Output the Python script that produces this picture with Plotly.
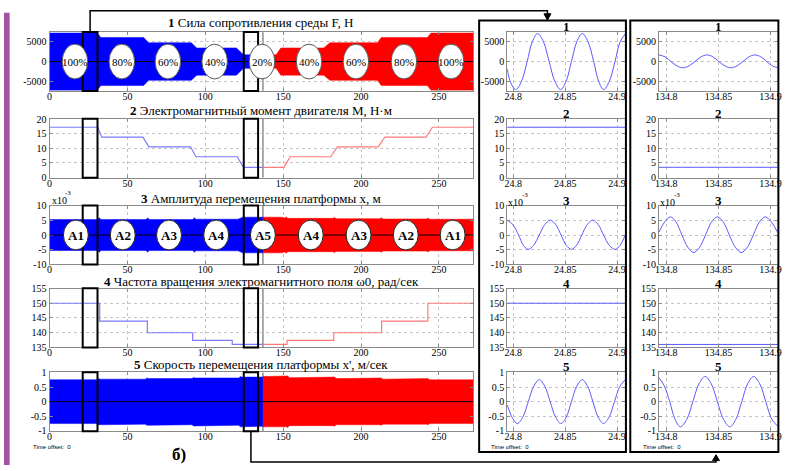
import plotly.graph_objects as go

W, H = 789, 471
SERIF = "Liberation Serif"
SANS = "Liberation Sans"

# ======================= DATA =======================
# ---- left column, time axis (s) ----
t_ticks = [0, 50, 100, 150, 200, 250]
switch_t = 137                       # blue -> red boundary
zoom_windows = [(21.3, 30.8), (124.7, 133.9)]

# 1: force envelope (N)
f_blue_x = [0, 30.5, 33, 60.5, 63.5, 91, 94.5, 120, 124.5, 137]
f_blue_amp = [7150, 7150, 6000, 6000, 4700, 4700, 3400, 3400, 1700, 1700]
f_red_x = [137, 145.5, 148.5, 176, 180, 210.5, 213, 242.5, 245, 272]
f_red_amp = [1700, 1700, 3400, 3400, 4700, 4700, 6000, 6000, 7150, 7150]
f_label_x = [16.3, 46.4, 76, 106, 136.4, 166.6, 196.7, 227.5, 257.8]
f_labels = ["100%", "80%", "60%", "40%", "20%", "40%", "60%", "80%", "100%"]

# 2: electromagnetic torque (N*m)
m_blue_x = [0, 31, 33.5, 60, 63.8, 90.5, 94, 120.5, 124.5, 137]
m_blue_y = [17.2, 17.2, 13.8, 13.8, 10.5, 10.5, 7.1, 7.1, 3.5, 3.5]
m_red_x = [137, 150.5, 154.5, 180.5, 184.8, 211, 215.3, 241.8, 245.8, 272]
m_red_y = [3.5, 3.5, 7.1, 7.1, 10.5, 10.5, 13.8, 13.8, 17.2, 17.2]

# 3: displacement envelope (x1e-3 m)
x_blue_x = [0, 31, 32, 33, 62, 63, 64, 92, 93, 94, 121, 124, 137]
x_blue_amp = [5.3, 5.3, 5.9, 5.3, 5.3, 5.9, 5.3, 5.3, 5.9, 5.4, 5.4, 6.1, 6.1]
x_red_x = [137, 149, 151, 152, 153, 182, 183, 184, 212, 213, 214, 242, 243, 244, 272]
x_red_amp = [6.1, 6.1, 5.8, 6.2, 5.7, 5.7, 6.0, 5.6, 5.6, 5.9, 5.5, 5.5, 5.8, 5.4, 5.4]
a_label_x = [16.9, 47, 76.7, 107, 137, 167.7, 198.4, 228.7, 258.8]
a_labels = ["A1", "A2", "A3", "A4", "A5", "A4", "A3", "A2", "A1"]

# 4: field rotation frequency (rad/s), step changes
w_blue_x = [0, 32.2, 62.8, 91.9, 117.3, 137]
w_blue_y = [150, 143.9, 139.9, 137.3, 135.9, 135.9]
w_red_x = [137, 152.5, 182.5, 213.2, 242.9, 272]
w_red_y = [135.9, 137.3, 139.9, 143.9, 150, 150]

# 5: velocity envelope (m/s)
v_blue_x = [0, 30.5, 31.5, 32.5, 61.5, 62.5, 63.5, 91.5, 92.5, 93.5, 121.5, 122.5, 123.5, 137]
v_blue_amp = [0.75, 0.75, 0.79, 0.77, 0.77, 0.81, 0.79, 0.79, 0.83, 0.81, 0.81, 0.86, 0.84, 0.84]
v_red_x = [137, 152, 153, 154, 182, 183, 184, 212, 213, 214, 242, 243, 244, 272]
v_red_amp = [0.86, 0.86, 0.88, 0.82, 0.82, 0.84, 0.79, 0.79, 0.81, 0.77, 0.77, 0.79, 0.75, 0.75]

# ---- right column A (window near 24.85 s) ----
ta_ticks = [24.8, 24.85, 24.9]
a1_t = [24.794, 24.7975, 24.8023, 24.8078, 24.8133, 24.8183, 24.8234, 24.829, 24.8345,
        24.84, 24.8455, 24.8508, 24.856, 24.8612, 24.8664, 24.872, 24.8775, 24.8823,
        24.887, 24.8925, 24.898, 24.903, 24.908]
a1_f = [-1800, -5300, -7000, -4950, 0, 4950, 7000, 4950, 0,
        -4950, -7000, -4950, 0, 4950, 7000, 4950, 0, -4950,
        -7000, -4950, 0, 4950, 6900]
a2_t = [24.794, 24.908]
a2_m = [17.2, 17.2]
a3_t = [24.794, 24.7995, 24.805, 24.8096, 24.8142, 24.8196, 24.825, 24.8303, 24.8355,
        24.8408, 24.846, 24.851, 24.856, 24.861, 24.866, 24.8713, 24.8766, 24.8818,
        24.887, 24.8925, 24.898, 24.903, 24.908]
a3_x = [5.1, 3.6, 0, -3.5, -4.9, -3.5, 0, 3.6, 5.1,
        3.6, 0, -3.5, -4.9, -3.5, 0, 3.6, 5.1, 3.6,
        0, -3.5, -4.9, -3.5, 0]
a4_t = [24.794, 24.908]
a4_w = [150, 150]
a5_t = [24.794, 24.799, 24.8038, 24.8091, 24.8144, 24.8197, 24.825, 24.8303, 24.8355,
        24.8407, 24.8459, 24.851, 24.856, 24.8612, 24.8664, 24.8716, 24.8767, 24.8818,
        24.887, 24.8923, 24.8975, 24.9028, 24.908]
a5_v = [-0.1, -0.55, -0.75, -0.53, 0, 0.53, 0.75, 0.53, 0,
        -0.53, -0.75, -0.53, 0, 0.53, 0.75, 0.53, 0, -0.53,
        -0.75, -0.53, 0, 0.53, 0.75]

# ---- right column B (window near 134.85 s) ----
tb_ticks = [134.8, 134.85, 134.9]
b1_t = [134.793, 134.7988, 134.8045, 134.8103, 134.816, 134.8218, 134.8275, 134.8333,
        134.839, 134.8448, 134.8505, 134.8563, 134.862, 134.8678, 134.8735, 134.8793,
        134.885, 134.8908, 134.8965, 134.9018, 134.907]
b1_f = [1650, 1170, 0, -1100, -1550, -1100, 0, 1170,
        1650, 1170, 0, -1100, -1550, -1100, 0, 1170,
        1650, 1170, 0, -1100, -1550]
b2_t = [134.793, 134.907]
b2_m = [3.5, 3.5]
b3_t = [134.793, 134.7985, 134.804, 134.8095, 134.815, 134.8207, 134.8263, 134.832,
        134.8377, 134.8433, 134.849, 134.8548, 134.8605, 134.8663, 134.872, 134.8778,
        134.8835, 134.8893, 134.895, 134.901, 134.907]
b3_x = [1.0, 4.5, 6.2, 4.4, 0, -4.2, -6.0, -4.2,
        0, 4.4, 6.2, 4.4, 0, -4.2, -6.0, -4.2,
        0, 4.4, 6.2, 4.4, 0.8]
b4_t = [134.793, 134.907]
b4_w = [135.9, 135.9]
b5_t = [134.793, 134.798, 134.8033, 134.8085, 134.8136, 134.8196, 134.8255, 134.8314,
        134.8373, 134.8432, 134.849, 134.855, 134.861, 134.8667, 134.8724, 134.8781,
        134.8838, 134.8897, 134.8955, 134.9013, 134.907]
b5_v = [0.82, 0.55, 0, -0.61, -0.86, -0.61, 0, 0.61,
        0.86, 0.61, 0, -0.61, -0.86, -0.61, 0, 0.61,
        0.86, 0.61, 0, -0.61, -0.84]

left_titles = [
    "<b>1</b> Сила сопротивления среды F, Н",
    "<b>2</b> Электромагнитный момент двигателя M, Н·м",
    "<b>3</b> Амплитуда перемещения платформы x, м",
    "<b>4</b> Частота вращения электромагнитного поля ω0, рад/сек",
    "<b>5</b> Скорость перемещения платформы x', м/сек",
]
right_titles = ["1", "2", "3", "4", "5"]

y_ranges = [[-7300, 7300], [0, 20], [-10, 10], [135, 155], [-1, 1]]
y_ticks = [[-5000, 0, 5000], [0, 5, 10, 15, 20], [-10, -5, 0, 5, 10],
           [135, 140, 145, 150, 155], [-1, -0.5, 0, 0.5, 1]]

# ======================= LAYOUT GEOMETRY (px) =======================
col_px = [(46, 474), (508.3, 627.7), (661.7, 781.7)]
row_px = [(27, 87), (116, 176), (205, 265), (290, 350), (376, 436)]
x_ranges = [[0, 272], [24.794, 24.908], [134.793, 134.907]]
x_ticks = [t_ticks, ta_ticks, tb_ticks]


def PX(px):
    return px / W


def PY(py):
    return 1 - py / H


def fmt(v):
    return "%g" % v


def ax_id(r, c):
    return r * 3 + c + 1


def xname(i):
    return "x" if i == 1 else "x%d" % i


def yname(i):
    return "y" if i == 1 else "y%d" % i


BLUE = "#0000ff"
RED = "#ff0000"
LBLUE = "#7b7bff"
LRED = "#ff7b7b"
WBLUE = "#5a5aff"

fig = go.Figure()


def add_env(xs, amps, color, idx):
    fig.add_trace(go.Scatter(
        x=list(xs) + list(xs[::-1]),
        y=list(amps) + [-a for a in amps[::-1]],
        fill="toself", fillcolor=color, mode="lines",
        line=dict(color=color, width=0.5),
        xaxis=xname(idx), yaxis=yname(idx), hoverinfo="skip"))


def add_line(xs, ys, color, idx, shape="linear", width=1.2):
    fig.add_trace(go.Scatter(
        x=xs, y=ys, mode="lines",
        line=dict(color=color, width=width, shape=shape, smoothing=1),
        xaxis=xname(idx), yaxis=yname(idx), hoverinfo="skip"))


# left column
add_env(f_blue_x, f_blue_amp, BLUE, ax_id(0, 0))
add_env(f_red_x, f_red_amp, RED, ax_id(0, 0))
add_line(m_blue_x, m_blue_y, LBLUE, ax_id(1, 0))
add_line(m_red_x, m_red_y, LRED, ax_id(1, 0))
add_env(x_blue_x, x_blue_amp, BLUE, ax_id(2, 0))
add_env(x_red_x, x_red_amp, RED, ax_id(2, 0))
add_line(w_blue_x, w_blue_y, LBLUE, ax_id(3, 0), shape="hv")
add_line(w_red_x, w_red_y, LRED, ax_id(3, 0), shape="hv")
add_env(v_blue_x, v_blue_amp, BLUE, ax_id(4, 0))
add_env(v_red_x, v_red_amp, RED, ax_id(4, 0))

# right columns
right_a = [(a1_t, a1_f), (a2_t, a2_m), (a3_t, a3_x), (a4_t, a4_w), (a5_t, a5_v)]
right_b = [(b1_t, b1_f), (b2_t, b2_m), (b3_t, b3_x), (b4_t, b4_w), (b5_t, b5_v)]
for r in range(5):
    add_line(right_a[r][0], right_a[r][1], WBLUE, ax_id(r, 1), shape="spline", width=1)
    add_line(right_b[r][0], right_b[r][1], WBLUE, ax_id(r, 2), shape="spline", width=1)

layout = dict(width=W, height=H, margin=dict(l=0, r=0, t=0, b=0),
              paper_bgcolor="white", plot_bgcolor="white", showlegend=False,
              font=dict(family=SERIF, size=10, color="black"))

axis_common = dict(showline=True, linecolor="#8a8a8a", linewidth=1, mirror="ticks",
                   ticks="inside", ticklen=3, tickcolor="#8a8a8a",
                   showgrid=True, gridcolor="#c4c4c4", griddash="dot", gridwidth=1,
                   zeroline=False, fixedrange=True,
                   tickfont=dict(family=SERIF, size=10, color="black"))

for r in range(5):
    for c in range(3):
        i = ax_id(r, c)
        xk = "xaxis" if i == 1 else "xaxis%d" % i
        yk = "yaxis" if i == 1 else "yaxis%d" % i
        layout[xk] = dict(axis_common, domain=[PX(col_px[c][0]), PX(col_px[c][1])],
                          anchor=yname(i), range=x_ranges[c],
                          tickmode="array", tickvals=x_ticks[c],
                          ticktext=[fmt(v) for v in x_ticks[c]],
                          ticklabelstandoff=-4)
        layout[yk] = dict(axis_common, domain=[PY(row_px[r][1]), PY(row_px[r][0])],
                          anchor=xname(i), range=y_ranges[r],
                          tickmode="array", tickvals=y_ticks[r],
                          ticktext=[fmt(v) for v in y_ticks[r]])

shapes = []
annotations = []

# purple side bar
shapes.append(dict(type="rect", xref="paper", yref="paper", x0=0, x1=PX(5.7),
                   y0=0, y1=PY(7), fillcolor="#a552a5", line=dict(width=0), layer="below"))

# left column decorations
for r in range(5):
    i = ax_id(r, 0)
    shapes.append(dict(type="line", xref=xname(i), yref=yname(i) + " domain",
                       x0=switch_t, x1=switch_t, y0=0, y1=1,
                       line=dict(color="#8c8c8c", width=1.5), layer="below"))
    if r in (0, 2, 4):
        shapes.append(dict(type="line", xref=xname(i) + " domain", yref=yname(i),
                           x0=0, x1=1, y0=0, y1=0, line=dict(color="black", width=1)))
    for (a, b) in zoom_windows:
        shapes.append(dict(type="rect", xref=xname(i), yref=yname(i) + " domain",
                           x0=a, x1=b, y0=-0.005, y1=1.005,
                           line=dict(color="black", width=2), fillcolor="rgba(0,0,0,0)"))

# ellipse labels: panel 1
i1 = ax_id(0, 0)
for cx, lab in zip(f_label_x, f_labels):
    shapes.append(dict(type="circle", xref=xname(i1), yref=yname(i1),
                       x0=cx - 8.2, x1=cx + 8.2, y0=-4350, y1=4350,
                       fillcolor="white", line=dict(color="#555555", width=1)))
    annotations.append(dict(x=cx, y=0, xref=xname(i1), yref=yname(i1), text=lab,
                            showarrow=False, font=dict(family=SERIF, size=11, color="black")))
# ellipse labels: panel 3
i3 = ax_id(2, 0)
for cx, lab in zip(a_label_x, a_labels):
    shapes.append(dict(type="circle", xref=xname(i3), yref=yname(i3),
                       x0=cx - 8, x1=cx + 8, y0=-5.1, y1=5.1,
                       fillcolor="white", line=dict(color="#222222", width=1)))
    annotations.append(dict(x=cx, y=0, xref=xname(i3), yref=yname(i3), text="<b>%s</b>" % lab,
                            showarrow=False, font=dict(family=SERIF, size=13, color="black")))

# right boxes
box_top, box_bot = 15, 457.7
for (x0, x1) in [(480, 628.3), (632.7, 782.3)]:
    shapes.append(dict(type="rect", xref="paper", yref="paper",
                       x0=PX(x0), x1=PX(x1), y0=PY(box_bot), y1=PY(box_top),
                       line=dict(color="black", width=2), fillcolor="rgba(0,0,0,0)"))


def tpx(t):
    return col_px[0][0] + (t - x_ranges[0][0]) / (x_ranges[0][1] - x_ranges[0][0]) * (col_px[0][1] - col_px[0][0])


def pth(points, close=False):
    s = "M " + " L ".join("%f,%f" % (PX(a), PY(b)) for a, b in points)
    return s + (" Z" if close else "")


# connector 1: from top of first window to box A
cx1 = tpx(sum(zoom_windows[0]) / 2)
ax_a = 549
shapes.append(dict(type="path", xref="paper", yref="paper",
                   path=pth([(cx1, row_px[0][0]), (cx1, 5), (ax_a, 5), (ax_a, 9)]),
                   line=dict(color="black", width=1.5)))
shapes.append(dict(type="path", xref="paper", yref="paper",
                   path=pth([(ax_a - 3.5, 8), (ax_a + 3.5, 8), (ax_a, 14.5)], close=True),
                   fillcolor="black", line=dict(color="black", width=1)))
# connector 2: from bottom of second window to box B
cx2 = tpx(sum(zoom_windows[1]) / 2)
ax_b = 719.3
shapes.append(dict(type="path", xref="paper", yref="paper",
                   path=pth([(cx2, row_px[4][1]), (cx2, 468), (ax_b, 468), (ax_b, 465)]),
                   line=dict(color="black", width=1.5)))
shapes.append(dict(type="path", xref="paper", yref="paper",
                   path=pth([(ax_b - 3.5, 466.5), (ax_b + 3.5, 466.5), (ax_b, 460.5)], close=True),
                   fillcolor="black", line=dict(color="black", width=1)))

# titles
left_title_y = [17.3, 107.3, 197.3, 283, 368.3]
right_title_y = [21.5, 110.5, 199.3, 285, 370]
for r in range(5):
    annotations.append(dict(x=PX((col_px[0][0] + col_px[0][1]) / 2), y=PY(left_title_y[r]),
                            xref="paper", yref="paper", text=left_titles[r], showarrow=False,
                            xanchor="center", yanchor="middle",
                            font=dict(family=SERIF, size=13, color="black")))
    for c in (1, 2):
        annotations.append(dict(x=PX((col_px[c][0] + col_px[c][1]) / 2), y=PY(right_title_y[r]),
                                xref="paper", yref="paper", text="<b>%s</b>" % right_titles[r],
                                showarrow=False, xanchor="center", yanchor="middle",
                                font=dict(family=SERIF, size=13, color="black")))

# x10^-3 exponent labels (base and exponent as two texts)
for (xp, yp) in [(46.5, 200), (507.5, 201.5), (661, 201.5)]:
    annotations.append(dict(x=PX(xp), y=PY(yp), xref="paper", yref="paper",
                            text="x10", showarrow=False,
                            xanchor="left", yanchor="middle",
                            font=dict(family=SERIF, size=10, color="black")))
    annotations.append(dict(x=PX(xp + 13.5), y=PY(yp - 8), xref="paper", yref="paper",
                            text="-3", showarrow=False,
                            xanchor="left", yanchor="middle",
                            font=dict(family=SERIF, size=7, color="black")))

# Time offset labels
for xp in (27, 489.5, 644):
    annotations.append(dict(x=PX(xp), y=PY(453), xref="paper", yref="paper",
                            text="Time offset:  0", showarrow=False,
                            xanchor="left", yanchor="middle",
                            font=dict(family=SANS, size=6, color="black")))

annotations.append(dict(x=PX(177), y=PY(460), xref="paper", yref="paper", text="<b>б)</b>",
                        showarrow=False, xanchor="center", yanchor="middle",
                        font=dict(family=SERIF, size=17, color="black")))

layout["shapes"] = shapes
layout["annotations"] = annotations
fig.update_layout(**layout)

fig.write_html("out.html")
